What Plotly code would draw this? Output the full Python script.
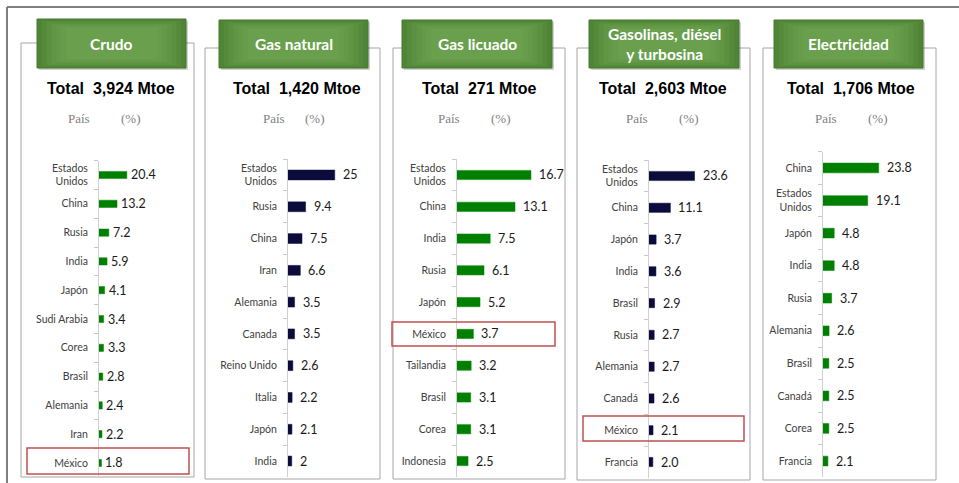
import plotly.graph_objects as go

W, H = 959, 483

# ---------------- data ----------------
crudo_paises = ["Estados<br>Unidos", "China", "Rusia", "India", "Japón", "Sudi Arabia",
                "Corea", "Brasil", "Alemania", "Iran", "México"]
crudo_valores = [20.4, 13.2, 7.2, 5.9, 4.1, 3.4, 3.3, 2.8, 2.4, 2.2, 1.8]

gas_paises = ["Estados<br>Unidos", "Rusia", "China", "Iran", "Alemania", "Canada",
              "Reino Unido", "Italia", "Japón", "India"]
gas_valores = [25, 9.4, 7.5, 6.6, 3.5, 3.5, 2.6, 2.2, 2.1, 2]

glp_paises = ["Estados<br>Unidos", "China", "India", "Rusia", "Japón", "México",
              "Tailandia", "Brasil", "Corea", "Indonesia"]
glp_valores = [16.7, 13.1, 7.5, 6.1, 5.2, 3.7, 3.2, 3.1, 3.1, 2.5]

gdt_paises = ["Estados<br>Unidos", "China", "Japón", "India", "Brasil", "Rusia",
              "Alemania", "Canadá", "México", "Francia"]
gdt_valores = [23.6, 11.1, 3.7, 3.6, 2.9, 2.7, 2.7, 2.6, 2.1, 2.0]

elec_paises = ["China", "Estados<br>Unidos", "Japón", "India", "Rusia", "Alemania",
               "Brasil", "Canadá", "Corea", "Francia"]
elec_valores = [23.8, 19.1, 4.8, 4.8, 3.7, 2.6, 2.5, 2.5, 2.5, 2.1]

titulos = ["Crudo", "Gas natural", "Gas licuado", "Gasolinas, diésel<br>y turbosina", "Electricidad"]
totales = ["3,924", "1,420", "271", "2,603", "1,706"]

paises = [crudo_paises, gas_paises, glp_paises, gdt_paises, elec_paises]
valores = [crudo_valores, gas_valores, glp_valores, gdt_valores, elec_valores]

# ---------------- layout constants (pixels) ----------------
GREEN = "#008000"
NAVY = "#0c0c3c"
panels = [
    dict(box=(21, 43, 194, 477), head=(37, 19, 186, 68), ax=99, ppu=1.365, right=190,
         ytop=160.6, ybot=477.4, bw=0.25, color=GREEN, fmt="{:.1f}", shift=2, tot=111,
         pais=79, pct=131, hl=(27, 448, 189, 474)),
    dict(box=(205, 48, 380, 479), head=(219, 20, 368, 68), ax=288, ppu=1.87, right=375,
         ytop=159.1, ybot=476.9, bw=0.31, color=NAVY, fmt="{:g}", shift=6, tot=297,
         pais=274, pct=315, hl=None),
    dict(box=(393, 48, 565, 479), head=(402, 20, 552, 68), ax=457, ppu=4.43, right=560,
         ytop=159.1, ybot=476.9, bw=0.29, color=GREEN, fmt="{:.1f}", shift=6, tot=479,
         pais=449, pct=501, hl=(392, 322, 555, 346)),
    dict(box=(577, 48, 750, 480), head=(589, 20, 739, 68), ax=649, ppu=1.93, right=745,
         ytop=160.1, ybot=477.9, bw=0.29, color=NAVY, fmt="{:.1f}", shift=6, tot=663,
         pais=637, pct=689, hl=(583, 416, 744, 441)),
    dict(box=(763, 48, 936, 480), head=(774, 20, 923, 68), ax=823, ppu=2.34, right=930,
         ytop=151.7, ybot=477.3, bw=0.30, color=GREEN, fmt="{:.1f}", shift=6, tot=851,
         pais=826, pct=878, hl=None),
]


def px(x):
    return x / W


def py(y):
    return 1 - y / H


fig = go.Figure()
shapes = []
annotations = []

# outer frame (top and left)
shapes.append(dict(type="line", xref="paper", yref="paper", x0=px(7), x1=1, y0=py(7), y1=py(7),
                   line=dict(color="#7f7f7f", width=2)))
shapes.append(dict(type="line", xref="paper", yref="paper", x0=px(7), x1=px(7), y0=py(7), y1=0,
                   line=dict(color="#7f7f7f", width=2)))

LABEL_FONT = "Lato, 'Open Sans', sans-serif"

for i, p in enumerate(panels):
    n = i + 1
    xa = "x" if n == 1 else f"x{n}"
    ya = "y" if n == 1 else f"y{n}"
    cats = paises[i]
    vals = valores[i]

    fig.add_trace(go.Bar(
        x=vals, y=cats, orientation="h", xaxis=xa, yaxis=ya,
        marker=dict(color=p["color"], line=dict(color=p["color"], width=0.5)),
        width=p["bw"], showlegend=False, hoverinfo="x+y",
    ))

    xmax = (p["right"] - p["ax"]) / p["ppu"]
    fig.layout[f"xaxis{'' if n == 1 else n}"] = dict(
        domain=[px(p["ax"]), px(p["right"])], range=[0, xmax], anchor=ya,
        showgrid=False, zeroline=False, showticklabels=False, showline=False, ticks="",
        fixedrange=True,
    )
    fig.layout[f"yaxis{'' if n == 1 else n}"] = dict(
        domain=[py(p["ybot"]), py(p["ytop"])], anchor=xa, type="category",
        categoryorder="array", categoryarray=cats, autorange="reversed",
        showgrid=False, zeroline=False, showline=True, linecolor="#d0d0d0", linewidth=1,
        ticks="outside", tickson="boundaries", ticklen=4, tickcolor="#c8c8c8",
        tickfont=dict(family=LABEL_FONT, size=10.5, color="#404040"),
        ticklabelstandoff=8, fixedrange=True,
    )

    # data labels
    for c, v in zip(cats, vals):
        annotations.append(dict(
            xref=xa, yref=ya, x=v, y=c, text=p["fmt"].format(v), showarrow=False,
            xanchor="left", yanchor="middle", xshift=p["shift"],
            font=dict(family=LABEL_FONT, size=12.5, color="#1a1a1a"),
        ))

    # panel border
    x0, y0, x1, y1 = p["box"]
    shapes.append(dict(type="rect", xref="paper", yref="paper", layer="below",
                       x0=px(x0), x1=px(x1), y0=py(y1), y1=py(y0),
                       line=dict(color="#a6a6a6", width=1), fillcolor="rgba(0,0,0,0)"))

    # header box with simulated gradient
    hx0, hy0, hx1, hy1 = p["head"]
    shapes.append(dict(type="rect", xref="paper", yref="paper", layer="above",
                       x0=px(hx0 + 2), x1=px(hx1 + 2), y0=py(hy1 + 2), y1=py(hy0 + 2),
                       line=dict(width=0), fillcolor="rgba(0,0,0,0.18)"))
    grads = ["#4e8435", "#548a3a", "#5a903f", "#5f9543", "#639947", "#669c4a", "#699f4d"]
    for k, col in enumerate(grads):
        ins = k * 3
        shapes.append(dict(type="rect", xref="paper", yref="paper", layer="above",
                           x0=px(hx0 + ins * 1.6), x1=px(hx1 - ins * 1.6),
                           y0=py(hy1 - ins * 0.5), y1=py(hy0 + ins * 0.5),
                           line=dict(width=0), fillcolor=col))
    shapes.append(dict(type="rect", xref="paper", yref="paper", layer="above",
                       x0=px(hx0), x1=px(hx1), y0=py(hy1), y1=py(hy0),
                       line=dict(color="#46782f", width=1), fillcolor="rgba(0,0,0,0)"))
    annotations.append(dict(
        xref="paper", yref="paper", x=px((hx0 + hx1) / 2), y=py((hy0 + hy1) / 2),
        text=titulos[i], showarrow=False, xanchor="center", yanchor="middle",
        font=dict(family=LABEL_FONT, size=15.5, color="white", weight="bold"),
    ))

    # total
    annotations.append(dict(
        xref="paper", yref="paper", x=px(p["tot"]), y=py(89),
        text=f"Total\u00a0\u00a0{totales[i]}\u00a0Mtoe", showarrow=False,
        xanchor="center", yanchor="middle",
        font=dict(family="Liberation Sans, Arial, sans-serif", size=16, color="black", weight="bold"),
    ))
    # column headings
    for txt, cx in (("País", p["pais"]), ("(%)", p["pct"])):
        annotations.append(dict(
            xref="paper", yref="paper", x=px(cx), y=py(119), text=txt, showarrow=False,
            xanchor="center", yanchor="middle",
            font=dict(family="Liberation Serif, 'Times New Roman', serif", size=13, color="#7f7f7f"),
        ))

    # highlight rectangle
    if p["hl"] is not None:
        a, b, c2, d = p["hl"]
        shapes.append(dict(type="rect", xref="paper", yref="paper", layer="above",
                           x0=px(a), x1=px(c2), y0=py(d), y1=py(b),
                           line=dict(color="#c0504d", width=1.5), fillcolor="rgba(0,0,0,0)"))

fig.update_layout(
    width=W, height=H, margin=dict(l=0, r=0, t=0, b=0),
    paper_bgcolor="white", plot_bgcolor="rgba(0,0,0,0)",
    shapes=shapes, annotations=annotations, bargap=0.7,
)

fig.write_html("out.html", config={"displayModeBar": False},
               post_script="document.body.style.margin='0';")
